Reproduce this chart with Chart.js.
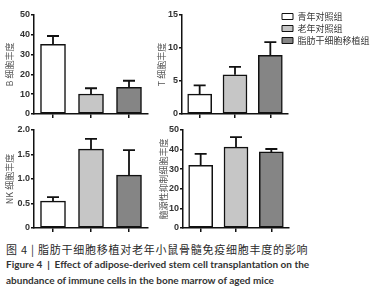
<!DOCTYPE html>
<html>
<head>
<meta charset="utf-8">
<script src="https://cdn.jsdelivr.net/npm/chart.js@4.4.1/dist/chart.umd.min.js"></script>
<style>
  html, body { margin: 0; padding: 0; background: #fff; }
  #page { position: relative; width: 372px; height: 294px; overflow: hidden; }
  .panel { position: absolute; }
  .caption { position: absolute; left: 6px; white-space: nowrap; color: #333; }
  #capZh { top: 241px; font: 11px "Noto Sans CJK SC", sans-serif; letter-spacing: 0.75px; color: #2a2a2a; }
  #capEn1 { top: 258px; font: bold 10px Lato, sans-serif; }
  #capEn2 { top: 274px; font: bold 10px Lato, sans-serif; }
</style>
</head>
<body>
<div id="page">
  <canvas id="cB" class="panel" width="152" height="122" style="left:0;top:0"></canvas>
  <canvas id="cT" class="panel" width="140" height="122" style="left:150px;top:0"></canvas>
  <canvas id="cNK" class="panel" width="152" height="121" style="left:0;top:115px"></canvas>
  <canvas id="cM" class="panel" width="141" height="121" style="left:150px;top:115px"></canvas>
  <canvas id="cLeg" class="panel" width="93" height="96" style="left:279px;top:9px"></canvas>
  <div id="capZh" class="caption">图 4 | 脂肪干细胞移植对老年小鼠骨髓免疫细胞丰度的影响</div>
  <div id="capEn1" class="caption">Figure 4&nbsp; |&nbsp; Effect of adipose-derived stem cell transplantation on the</div>
  <div id="capEn2" class="caption">abundance of immune cells in the bone marrow of aged mice</div>
</div>
<script>
// groupes et couleurs
const groups = ['青年对照组', '老年对照组', '脂肪干细胞移植组'];
const barColors = ['#ffffff', '#c6c6c6', '#858585'];

// valeurs (moyenne + erreur vers le haut)
const bMeans = [35.2, 10.1, 13.5];
const bErrors = [4.2, 2.9, 3.3];
const tMeans = [3.0, 5.95, 8.9];
const tErrors = [1.35, 1.2, 2.0];
const nkMeans = [0.55, 1.61, 1.08];
const nkErrors = [0.08, 0.21, 0.51];
const mdscMeans = [32, 41.3, 38.8];
const mdscErrors = [5.8, 5.1, 1.5];

// axes y : max et pas
const bAxis = [50, 10];
const tAxis = [15, 5];
const nkAxis = [2.0, 0.5];
const mdscAxis = [50, 10];

const titles = ['B 细胞丰度', 'T 细胞丰度', 'NK 细胞丰度', '髓源性抑制细胞丰度'];

// barres d'erreur (seulement vers le haut)
const errorBars = {
  id: 'errorBars',
  afterDatasetsDraw(chart) {
    const errs = chart.options.plugins.errorBars.values;
    const yScale = chart.scales.y;
    const ctx = chart.ctx;
    const meta = chart.getDatasetMeta(0);
    const vals = chart.data.datasets[0].data;
    ctx.save();
    ctx.strokeStyle = '#111';
    ctx.lineWidth = 1.8;
    meta.data.forEach((bar, i) => {
      const yTop = yScale.getPixelForValue(vals[i] + errs[i]);
      ctx.beginPath();
      ctx.moveTo(bar.x, bar.y);
      ctx.lineTo(bar.x, yTop);
      ctx.moveTo(bar.x - 6, yTop);
      ctx.lineTo(bar.x + 6, yTop);
      ctx.stroke();
    });
    ctx.restore();
  }
};

function makePanel(id, means, errors, axis, title, opt) {
  const [max, step] = axis;
  new Chart(document.getElementById(id), {
    type: 'bar',
    data: {
      labels: groups,
      datasets: [{
        data: means,
        backgroundColor: barColors,
        borderColor: '#111',
        borderWidth: 1.5,
        borderSkipped: false,
        barThickness: opt.barWidth,
      }],
    },
    plugins: [errorBars],
    options: {
      responsive: false,
      animation: false,
      devicePixelRatio: 1,
      layout: { padding: { top: 15, right: opt.right, bottom: 0, left: 0 } },
      plugins: {
        legend: { display: false },
        tooltip: { enabled: false },
        errorBars: { values: errors },
      },
      scales: {
        x: {
          afterFit: (s) => { s.height = 8; },
          border: { display: true, color: '#111', width: 1.5 },
          grid: { display: true, drawOnChartArea: false, drawTicks: true, tickLength: 4, offset: false, color: '#111', lineWidth: 1.5 },
          ticks: { display: false },
        },
        y: {
          min: 0,
          max: max,
          afterFit: (s) => { s.width = opt.axisWidth; },
          border: { display: true, color: '#111', width: 1.5 },
          grid: { display: true, drawOnChartArea: false, drawTicks: true, tickLength: 3, color: '#111', lineWidth: 1.5 },
          ticks: {
            stepSize: step,
            padding: 1,
            color: '#333',
            font: { family: 'Liberation Sans, Arial, sans-serif', size: 9, weight: 'bold' },
            callback: (v) => (v === 0 ? '0' : (step < 1 ? v.toFixed(1) : String(v))),
          },
          title: {
            display: true,
            text: title,
            color: '#555',
            padding: { top: opt.titlePad, bottom: 0 },
            font: { family: 'Noto Sans CJK SC, sans-serif', size: 9 },
          },
        },
      },
    },
  });
}

makePanel('cB', bMeans, bErrors, bAxis, titles[0], { barWidth: 25, right: 4, axisWidth: 34, titlePad: 4 });
makePanel('cT', tMeans, tErrors, tAxis, titles[1], { barWidth: 24, right: 2, axisWidth: 32, titlePad: 6 });
makePanel('cNK', nkMeans, nkErrors, nkAxis, titles[2], { barWidth: 25, right: 4, axisWidth: 34, titlePad: 4 });
makePanel('cM', mdscMeans, mdscErrors, mdscAxis, titles[3], { barWidth: 24, right: 2, axisWidth: 33, titlePad: 8 });

// légende seule, placée en haut à droite
new Chart(document.getElementById('cLeg'), {
  type: 'bar',
  data: {
    labels: [],
    datasets: groups.map((g, i) => ({
      label: g,
      data: [],
      backgroundColor: barColors[i],
      borderColor: '#111',
      borderWidth: 1,
    })),
  },
  options: {
    responsive: false,
    animation: false,
    devicePixelRatio: 1,
    layout: { padding: 0 },
    plugins: {
      tooltip: { enabled: false },
      legend: {
        display: true,
        position: 'top',
        align: 'start',
        labels: {
          boxWidth: 11,
          boxHeight: 6,
          padding: 3,
          color: '#333',
          font: { family: 'Noto Sans CJK SC, sans-serif', size: 9 },
        },
      },
    },
    scales: { x: { display: false }, y: { display: false } },
  },
});
</script>
</body>
</html>
